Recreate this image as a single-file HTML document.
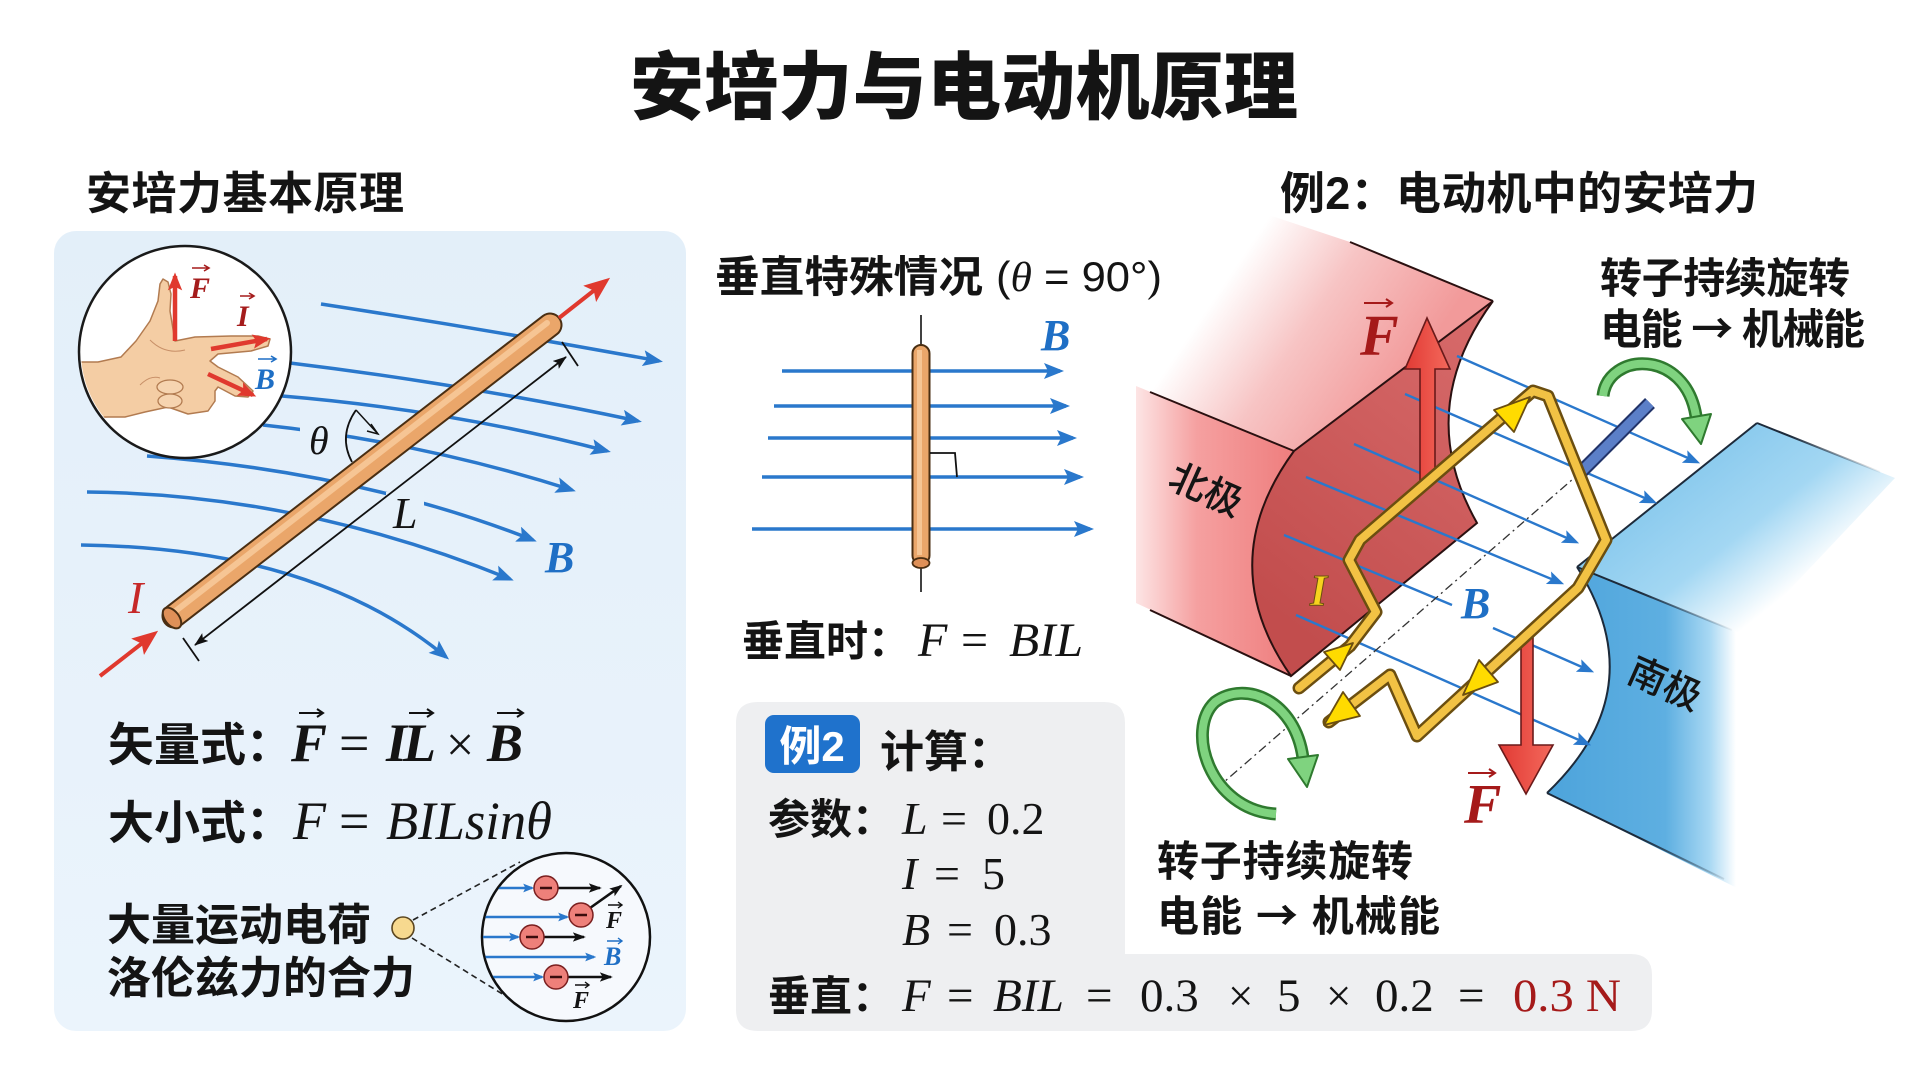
<!DOCTYPE html>
<html><head><meta charset="utf-8">
<style>
html,body{margin:0;padding:0;background:#fff;}
svg{display:block;}
.cj{font-family:"Liberation Sans","Noto Sans CJK SC",sans-serif;font-weight:700;fill:#141414;}
.m{font-family:"Liberation Serif",serif;font-style:italic;fill:#141414;}
.n{font-family:"Liberation Serif",serif;fill:#141414;}
</style></head>
<body>
<svg width="1920" height="1072" viewBox="0 0 1920 1072" xmlns="http://www.w3.org/2000/svg">
<defs>
  <marker id="mb" markerUnits="userSpaceOnUse" viewBox="0 0 20 16" refX="16" refY="8" markerWidth="20" markerHeight="16" orient="auto"><path d="M0,0 L20,8 L0,16 L4,8 Z" fill="#2a78cc"/></marker>
  <marker id="mbs" markerUnits="userSpaceOnUse" viewBox="0 0 20 16" refX="16" refY="8" markerWidth="17" markerHeight="14" orient="auto"><path d="M0,0 L20,8 L0,16 L4,8 Z" fill="#2a78cc"/></marker>
  <marker id="mbt" markerUnits="userSpaceOnUse" viewBox="0 0 20 16" refX="16" refY="8" markerWidth="11" markerHeight="9" orient="auto"><path d="M0,0 L20,8 L0,16 L4,8 Z" fill="#2a78cc"/></marker>
  <marker id="mk" markerUnits="userSpaceOnUse" viewBox="0 0 14 10" refX="13" refY="5" markerWidth="14" markerHeight="10" orient="auto-start-reverse"><path d="M0,0 L14,5 L0,10 L3,5 Z" fill="#111"/></marker>
  <marker id="mks" markerUnits="userSpaceOnUse" viewBox="0 0 14 10" refX="12" refY="5" markerWidth="13" markerHeight="10" orient="auto"><path d="M0,0 L14,5 L0,10 L3,5 Z" fill="#111"/></marker>
  <marker id="mr" markerUnits="userSpaceOnUse" viewBox="0 0 20 16" refX="16" refY="8" markerWidth="26" markerHeight="21" orient="auto"><path d="M0,0 L20,8 L0,16 L4,8 Z" fill="#e0392e"/></marker>
  <marker id="mrs" markerUnits="userSpaceOnUse" viewBox="0 0 20 16" refX="16" refY="8" markerWidth="18" markerHeight="15" orient="auto"><path d="M0,0 L20,8 L0,16 L4,8 Z" fill="#e0392e"/></marker>
  <linearGradient id="panel" x1="0" y1="0" x2="0" y2="1"><stop offset="0" stop-color="#e3eff9"/><stop offset="1" stop-color="#ebf4fc"/></linearGradient>
  <linearGradient id="nTop" gradientUnits="userSpaceOnUse" x1="1420" y1="360" x2="1250" y2="245"><stop offset="0" stop-color="#f29a9a"/><stop offset="0.55" stop-color="#f7c4c4"/><stop offset="1" stop-color="#ffffff"/></linearGradient>
  <linearGradient id="nFront" gradientUnits="userSpaceOnUse" x1="1290" y1="0" x2="1135" y2="0"><stop offset="0" stop-color="#ef7f7f"/><stop offset="0.6" stop-color="#f5a0a0"/><stop offset="1" stop-color="#fde6e6"/></linearGradient>
  <linearGradient id="nDark" gradientUnits="userSpaceOnUse" x1="1260" y1="600" x2="1480" y2="320"><stop offset="0" stop-color="#c24d4d"/><stop offset="1" stop-color="#d76a6a"/></linearGradient>
  <linearGradient id="sTop" gradientUnits="userSpaceOnUse" x1="1667" y1="495" x2="1762" y2="614"><stop offset="0" stop-color="#8ccbee"/><stop offset="0.5" stop-color="#a3d7f3"/><stop offset="1" stop-color="#ffffff"/></linearGradient>
  <linearGradient id="sFront" gradientUnits="userSpaceOnUse" x1="1560" y1="0" x2="1736" y2="0"><stop offset="0" stop-color="#4fa5dc"/><stop offset="0.6" stop-color="#5eafe1"/><stop offset="0.85" stop-color="#a8d8f3"/><stop offset="1" stop-color="#ffffff"/></linearGradient>
  <linearGradient id="fadeA" gradientUnits="userSpaceOnUse" x1="1640" y1="0" x2="1735" y2="0"><stop offset="0" stop-color="#1d2a3a" stop-opacity="1"/><stop offset="1" stop-color="#1d2a3a" stop-opacity="0"/></linearGradient>
  <linearGradient id="fadeB" gradientUnits="userSpaceOnUse" x1="1790" y1="0" x2="1885" y2="0"><stop offset="0" stop-color="#1d2a3a" stop-opacity="1"/><stop offset="1" stop-color="#1d2a3a" stop-opacity="0"/></linearGradient>
  <linearGradient id="redA" x1="0" y1="0" x2="1" y2="0"><stop offset="0" stop-color="#e13a34"/><stop offset="1" stop-color="#f4695c"/></linearGradient>
  <clipPath id="hc"><circle cx="185" cy="352" r="104"/></clipPath>
  <clipPath id="mc"><circle cx="566" cy="937" r="83"/></clipPath>
</defs>

<text x="964" y="113" text-anchor="middle" class="cj" style="font-size:74px;font-weight:900" textLength="668">安培力与电动机原理</text>

<text x="86" y="209" class="cj" style="font-size:45px" textLength="318">安培力基本原理</text>
<text x="1280" y="209" class="cj" style="font-size:45px" textLength="478">例2：电动机中的安培力</text>

<rect x="54" y="231" width="632" height="800" rx="22" fill="url(#panel)"/>

<g fill="none" stroke="#2a78cc" stroke-width="3.5" marker-end="url(#mb)">
  <path d="M321,304 Q490,330 659,361"/>
  <path d="M290,363 Q470,385 638,421"/>
  <path d="M282,396 Q450,410 607,451"/>
  <path d="M263,425 Q422,442 572,490"/>
  <path d="M147,456 Q360,472 533,540"/>
  <path d="M87,492 Q300,494 510,579"/>
  <path d="M81,545 Q315,548 446,657"/>
</g>
<rect x="300" y="420" width="46" height="40" fill="#e6f1fa"/>
<rect x="386" y="492" width="38" height="40" fill="#e6f1fa"/>

<circle cx="185" cy="352" r="106" fill="#ffffff" stroke="#1a1a1a" stroke-width="2.5"/>
<g clip-path="url(#hc)">
  <polygon points="98,362 121,357 136,341 150,321 158,301 160,284 163,279 168,282 171,294 170,311 175,341 195,337 231,336 258,336 270,339 268,346 251,351 218,354 210,361 218,367 238,377 253,391 248,397 235,396 218,387 215,391 215,401 208,411 188,414 168,407 145,412 125,417 108,417 70,418 70,362" fill="#f4cda4" stroke="#b27b50" stroke-width="1.5" stroke-linejoin="round"/>
  <ellipse cx="170" cy="387" rx="13" ry="7" fill="#f6d4b0" stroke="#b27b50" stroke-width="1.3"/>
  <ellipse cx="170" cy="401" rx="12" ry="7" fill="#f6d4b0" stroke="#b27b50" stroke-width="1.3"/>
  <path d="M150,340 Q165,355 185,350 M140,385 Q150,375 160,378" fill="none" stroke="#c89068" stroke-width="1"/>
</g>
<g stroke="#e0392e" stroke-width="4.5" fill="none" marker-end="url(#mrs)">
  <line x1="175" y1="341" x2="175" y2="276"/>
  <line x1="211" y1="349" x2="267" y2="339"/>
  <line x1="208" y1="374" x2="253" y2="395"/>
</g>
<text x="190" y="298" class="m" style="font-size:30px;font-weight:bold;fill:#a51c1c">F</text>
<path d="M192,268 H209 M204,265 L209,268 L204,271" stroke="#a51c1c" stroke-width="1.6" fill="none"/>
<text x="237" y="326" class="m" style="font-size:30px;font-weight:bold;fill:#a51c1c">I</text>
<path d="M240,296 H254 M249,293 L254,296 L249,299" stroke="#a51c1c" stroke-width="1.6" fill="none"/>
<text x="255" y="389" class="m" style="font-size:30px;font-weight:bold;fill:#1f6fc5">B</text>
<path d="M258,359 H276 M271,356 L276,359 L271,362" stroke="#1f6fc5" stroke-width="1.6" fill="none"/>

<line x1="174" y1="616" x2="550" y2="325" stroke="#4a2e12" stroke-width="25" stroke-linecap="round"/>
<line x1="174" y1="616" x2="550" y2="325" stroke="#eaa66a" stroke-width="21" stroke-linecap="round"/>
<line x1="173" y1="613" x2="547" y2="323" stroke="#f6c594" stroke-width="6" stroke-linecap="round"/>
<ellipse cx="172" cy="618" rx="7" ry="12" transform="rotate(-38 172 618)" fill="#df9058" stroke="#4a2e12" stroke-width="2"/>
<line x1="559" y1="318" x2="606" y2="281" stroke="#e0392e" stroke-width="4" marker-end="url(#mr)"/>
<line x1="100" y1="676" x2="154" y2="634" stroke="#e0392e" stroke-width="4" marker-end="url(#mr)"/>
<line x1="195" y1="645" x2="566" y2="357" stroke="#111" stroke-width="1.8" marker-start="url(#mk)" marker-end="url(#mk)"/>
<line x1="183" y1="638" x2="199" y2="661" stroke="#111" stroke-width="1.8"/>
<line x1="562" y1="342" x2="578" y2="366" stroke="#111" stroke-width="1.8"/>
<path d="M356,410 Q338,436 352,462" fill="none" stroke="#111" stroke-width="1.8"/>
<path d="M356,410 L378,434" fill="none" stroke="#111" stroke-width="1.5"/>
<path d="M371,424 L378,434 L367,431" fill="none" stroke="#111" stroke-width="1.5"/>
<text x="309" y="454" class="m" style="font-size:40px">θ</text>
<text x="393" y="528" class="m" style="font-size:44px">L</text>
<text x="545" y="572" class="m" style="font-size:44px;font-weight:bold;fill:#1f6fc5">B</text>
<text x="128" y="613" class="m" style="font-size:46px;fill:#c62828">I</text>

<text x="108" y="761" class="cj" style="font-size:46px">矢量式：</text>
<text x="291" y="761" class="m" style="font-size:54px;font-weight:bold">F</text>
<text x="339" y="761" class="n" style="font-size:54px">=</text>
<text x="386" y="761" class="m" style="font-size:54px;font-weight:bold">I</text>
<text x="403" y="761" class="m" style="font-size:54px;font-weight:bold">L</text>
<text x="446" y="761" class="n" style="font-size:50px">×</text>
<text x="487" y="761" class="m" style="font-size:54px;font-weight:bold">B</text>
<g stroke="#111" stroke-width="2" fill="none">
  <path d="M299,713 H323 M317,709 L323,713 L317,717"/>
  <path d="M409,713 H433 M427,709 L433,713 L427,717"/>
  <path d="M497,713 H523 M517,709 L523,713 L517,717"/>
</g>
<text x="108" y="839" class="cj" style="font-size:46px">大小式：</text>
<text x="293" y="839" class="m" style="font-size:54px">F</text>
<text x="339" y="839" class="n" style="font-size:54px">=</text>
<text x="386" y="839" class="m" style="font-size:54px" textLength="166" lengthAdjust="spacingAndGlyphs">BILsinθ</text>

<text x="107" y="940" class="cj" style="font-size:44px">大量运动电荷</text>
<text x="107" y="993" class="cj" style="font-size:44px">洛伦兹力的合力</text>
<line x1="413" y1="920" x2="520" y2="862" stroke="#222" stroke-width="1.6" stroke-dasharray="6 4"/>
<line x1="412" y1="938" x2="512" y2="1000" stroke="#222" stroke-width="1.6" stroke-dasharray="6 4"/>
<circle cx="403" cy="928" r="11" fill="#f7d98f" stroke="#5a4520" stroke-width="1.6"/>
<circle cx="566" cy="937" r="84" fill="#f6f9fd" stroke="#111" stroke-width="2.5"/>
<g clip-path="url(#mc)">
  <g stroke="#2a78cc" stroke-width="2.4" fill="none" marker-end="url(#mbt)">
    <line x1="480" y1="888" x2="532" y2="888"/>
    <line x1="480" y1="917" x2="567" y2="917"/>
    <line x1="480" y1="937" x2="518" y2="937"/>
    <line x1="480" y1="957" x2="594" y2="957"/>
    <line x1="480" y1="977" x2="542" y2="977"/>
  </g>
</g>
<g stroke="#111" stroke-width="2.6" fill="none" marker-end="url(#mks)">
  <line x1="558" y1="888" x2="600" y2="888"/>
  <line x1="590" y1="908" x2="621" y2="886"/>
  <line x1="544" y1="937" x2="584" y2="937"/>
  <line x1="568" y1="977" x2="611" y2="977"/>
</g>
<g fill="#ee807a" stroke="#7a1f1f" stroke-width="1.5">
  <circle cx="546" cy="888" r="12"/><circle cx="581" cy="915" r="12"/>
  <circle cx="532" cy="937" r="12"/><circle cx="556" cy="977" r="12"/>
</g>
<g stroke="#3a0c0c" stroke-width="2.5">
  <line x1="540" y1="888" x2="552" y2="888"/><line x1="575" y1="915" x2="587" y2="915"/>
  <line x1="526" y1="937" x2="538" y2="937"/><line x1="550" y1="977" x2="562" y2="977"/>
</g>
<text x="606" y="928" class="m" style="font-size:24px;font-weight:bold">F</text>
<path d="M608,905 H622 M618,902 L622,905 L618,908" stroke="#111" stroke-width="1.4" fill="none"/>
<text x="604" y="965" class="m" style="font-size:26px;font-weight:bold;fill:#1f6fc5">B</text>
<path d="M607,941 H622 M618,938 L622,941 L618,944" stroke="#1f6fc5" stroke-width="1.4" fill="none"/>
<text x="573" y="1008" class="m" style="font-size:24px;font-weight:bold">F</text>
<path d="M575,985 H589 M585,982 L589,985 L585,988" stroke="#111" stroke-width="1.4" fill="none"/>

<!-- MIDDLE -->
<text x="715" y="292" class="cj" style="font-size:43px" textLength="268" lengthAdjust="spacingAndGlyphs">垂直特殊情况</text>
<text x="996" y="291" style="font-family:'Liberation Sans',sans-serif;font-size:42px;fill:#141414" textLength="166" lengthAdjust="spacingAndGlyphs">(<tspan style="font-family:'Liberation Serif',serif;font-style:italic">θ</tspan> = 90°)</text>
<g stroke="#2a78cc" stroke-width="3.5" marker-end="url(#mb)">
  <line x1="782" y1="371" x2="1060" y2="371"/>
  <line x1="774" y1="406" x2="1066" y2="406"/>
  <line x1="768" y1="438" x2="1073" y2="438"/>
  <line x1="762" y1="477" x2="1080" y2="477"/>
  <line x1="752" y1="529" x2="1090" y2="529"/>
</g>
<line x1="921" y1="315" x2="921" y2="345" stroke="#111" stroke-width="1.6"/>
<line x1="921" y1="566" x2="921" y2="592" stroke="#111" stroke-width="1.6"/>
<rect x="912.5" y="345" width="17" height="219" rx="8.5" fill="#eaa66a" stroke="#4a2e12" stroke-width="2"/>
<rect x="917" y="350" width="5" height="205" fill="#f6c594"/>
<ellipse cx="921" cy="563" rx="8.5" ry="5" fill="#df9058" stroke="#4a2e12" stroke-width="1.8"/>
<path d="M930,453 L955,453 L957,477" fill="none" stroke="#111" stroke-width="1.8"/>
<text x="1041" y="350" class="m" style="font-size:44px;font-weight:bold;fill:#1f6fc5">B</text>
<text x="742" y="656" class="cj" style="font-size:42px">垂直时：</text>
<text x="918" y="656" class="m" style="font-size:48px">F</text>
<text x="961" y="656" class="n" style="font-size:48px">=</text>
<text x="1009" y="656" class="m" style="font-size:48px" textLength="74" lengthAdjust="spacingAndGlyphs">BIL</text>

<path d="M758,702 H1104 Q1125,702 1125,723 V954 H1631 Q1652,954 1652,975 V1010 Q1652,1031 1631,1031 H758 Q736,1031 736,1010 V723 Q736,702 758,702 Z" fill="#eeeff1"/>
<rect x="765" y="715" width="95" height="58" rx="9" fill="#1f72cc"/>
<text x="812" y="761" text-anchor="middle" class="cj" style="font-size:42px;fill:#ffffff">例2</text>
<text x="880" y="767" class="cj" style="font-size:44px">计算：</text>
<text x="768" y="834" class="cj" style="font-size:42px">参数：</text>
<text x="902" y="834" class="m" style="font-size:46px">L</text>
<text x="941" y="834" class="n" style="font-size:46px">=</text>
<text x="987" y="834" class="n" style="font-size:46px">0.2</text>
<text x="902" y="889" class="m" style="font-size:46px">I</text>
<text x="934" y="889" class="n" style="font-size:46px">=</text>
<text x="982" y="889" class="n" style="font-size:46px">5</text>
<text x="902" y="945" class="m" style="font-size:46px">B</text>
<text x="947" y="945" class="n" style="font-size:46px">=</text>
<text x="994" y="945" class="n" style="font-size:46px">0.3</text>
<text x="768" y="1011" class="cj" style="font-size:42px">垂直：</text>
<text x="902" y="1011" class="m" style="font-size:47px">F</text>
<text x="947" y="1011" class="n" style="font-size:47px">=</text>
<text x="993" y="1011" class="m" style="font-size:47px" textLength="71" lengthAdjust="spacingAndGlyphs">BIL</text>
<text x="1086" y="1011" class="n" style="font-size:47px">=</text>
<text x="1140" y="1011" class="n" style="font-size:47px">0.3</text>
<text x="1228" y="1011" class="n" style="font-size:45px">×</text>
<text x="1277" y="1011" class="n" style="font-size:47px">5</text>
<text x="1326" y="1011" class="n" style="font-size:45px">×</text>
<text x="1375" y="1011" class="n" style="font-size:47px">0.2</text>
<text x="1458" y="1011" class="n" style="font-size:47px">=</text>
<text x="1513" y="1011" class="n" style="font-size:47px;fill:#a51a1a" textLength="108" lengthAdjust="spacingAndGlyphs">0.3 N</text>

<!-- MOTOR -->
<polygon points="1577,567 1757,423 1895,478 1742,640" fill="url(#sTop)"/>
<path d="M1577,567 L1745,635 L1745,892 L1547,793 Q1655,690 1577,567 Z" fill="url(#sFront)"/>
<g stroke-width="2" fill="none">
  <path d="M1577,567 L1757,423" stroke="#1d2a3a"/>
  <path d="M1757,423 L1880,472" stroke="url(#fadeB)"/>
  <path d="M1577,567 L1732,630" stroke="url(#fadeA)"/>
  <path d="M1547,793 L1724,879" stroke="url(#fadeA)"/>
  <path d="M1577,567 Q1655,690 1547,793" stroke="#1d2a3a"/>
</g>
<polygon points="1136,310 1260,212 1350,242 1493,301 1294,451 1136,386" fill="url(#nTop)"/>
<path d="M1136,386 L1294,451 Q1212,563 1291,676 L1136,603 Z" fill="url(#nFront)"/>
<path d="M1294,451 L1493,301 Q1413,410 1477,523 L1291,676 Q1212,563 1294,451 Z" fill="url(#nDark)" stroke="#2a1010" stroke-width="2"/>
<g stroke="#2a1010" stroke-width="2" fill="none">
  <path d="M1350,242 L1493,301"/>
  <path d="M1150,392 L1294,451"/>
  <path d="M1150,610 L1291,676"/>
</g>
<g stroke="#2a78cc" stroke-width="2.4" marker-end="url(#mbs)">
  <line x1="1457" y1="356" x2="1697" y2="462"/>
  <line x1="1405" y1="394" x2="1654" y2="502"/>
  <line x1="1354" y1="444" x2="1576" y2="542"/>
  <line x1="1306" y1="477" x2="1561" y2="583"/>
  <line x1="1296" y1="615" x2="1588" y2="744"/>
  <line x1="1493" y1="628" x2="1591" y2="671"/>
</g>
<line x1="1284" y1="535" x2="1452" y2="605" stroke="#2a78cc" stroke-width="2.4"/>
<line x1="1216" y1="789" x2="1581" y2="472" stroke="#333" stroke-width="1.3" stroke-dasharray="9 4 2 4"/>
<line x1="1580" y1="473" x2="1650" y2="403" stroke="#22346a" stroke-width="14"/>
<line x1="1580" y1="473" x2="1650" y2="403" stroke="#5b7fc8" stroke-width="10"/>
<path d="M1420,480 L1420,369 L1405,369 L1427,318 L1450,369 L1435,369 L1435,480 Z" fill="url(#redA)" stroke="#6a1a1a" stroke-width="1.6"/>
<path d="M1521,633 L1521,745 L1499,745 L1526,794 L1553,745 L1533,745 L1533,633 Z" fill="url(#redA)" stroke="#6a1a1a" stroke-width="1.6"/>
<polyline points="1299,688 1350,646 1376,612 1349,560 1360,540 1533,391 1548,396 1606,540 1578,588 1417,736 1390,675 1329,722" fill="none" stroke="#6b4e10" stroke-width="13" stroke-linejoin="round" stroke-linecap="round"/>
<polyline points="1299,688 1350,646 1376,612 1349,560 1360,540 1533,391 1548,396 1606,540 1578,588 1417,736 1390,675 1329,722" fill="none" stroke="#f2c244" stroke-width="8" stroke-linejoin="round" stroke-linecap="round"/>
<g fill="#ffdb00" stroke="#6b4e10" stroke-width="1.8" stroke-linejoin="round">
  <polygon points="1530,397 1514,432 1494,410"/>
  <polygon points="1463,695 1498,682 1479,660"/>
  <polygon points="1324,725 1360,716 1343,692"/>
  <polygon points="1353,643 1340,670 1324,652"/>
</g>
<text x="1360" y="355" class="m" style="font-size:58px;font-weight:bold;fill:#a51a1a">F</text>
<path d="M1364,303 H1392 M1386,299 L1392,303 L1386,307" stroke="#a51a1a" stroke-width="2" fill="none"/>
<text x="1464" y="823" class="m" style="font-size:56px;font-weight:bold;fill:#a51a1a">F</text>
<path d="M1468,773 H1495 M1489,769 L1495,773 L1489,777" stroke="#a51a1a" stroke-width="2" fill="none"/>
<text x="1310" y="605" class="m" style="font-size:44px;font-weight:bold;fill:#f7d21e;stroke:#6b4e10;stroke-width:1">I</text>
<text x="1461" y="618" class="m" style="font-size:44px;font-weight:bold;fill:#1f6fc5">B</text>
<text transform="translate(1206,490) rotate(24)" text-anchor="middle" dy="13" class="cj" style="font-size:38px;font-weight:500">北极</text>
<text transform="translate(1665,684) rotate(24)" text-anchor="middle" dy="13" class="cj" style="font-size:38px;font-weight:500">南极</text>
<path d="M1603,396 C1608,352 1685,348 1696,416" fill="none" stroke="#2f7a2f" stroke-width="13"/>
<path d="M1603,396 C1608,352 1685,348 1696,416" fill="none" stroke="#7fd37f" stroke-width="8"/>
<polygon points="1701,444 1682,419 1711,414" fill="#7fd37f" stroke="#2f7a2f" stroke-width="2" stroke-linejoin="round"/>
<path d="M1276,814 C1210,810 1185,730 1215,702 C1245,680 1295,700 1303,758" fill="none" stroke="#2f7a2f" stroke-width="13"/>
<path d="M1276,814 C1210,810 1185,730 1215,702 C1245,680 1295,700 1303,758" fill="none" stroke="#7fd37f" stroke-width="8"/>
<polygon points="1307,787 1288,759 1318,755" fill="#7fd37f" stroke="#2f7a2f" stroke-width="2" stroke-linejoin="round"/>
<text x="1600" y="293" class="cj" style="font-size:42px" textLength="250">转子持续旋转</text>
<text x="1600" y="344" class="cj" style="font-size:42px" textLength="265">电能 <tspan style="font-family:'Noto Sans CJK SC',sans-serif">→</tspan> 机械能</text>
<text x="1157" y="876" class="cj" style="font-size:42px" textLength="256">转子持续旋转</text>
<text x="1157" y="931" class="cj" style="font-size:42px" textLength="283">电能 <tspan style="font-family:'Noto Sans CJK SC',sans-serif">→</tspan> 机械能</text>
</svg>
</body></html>
